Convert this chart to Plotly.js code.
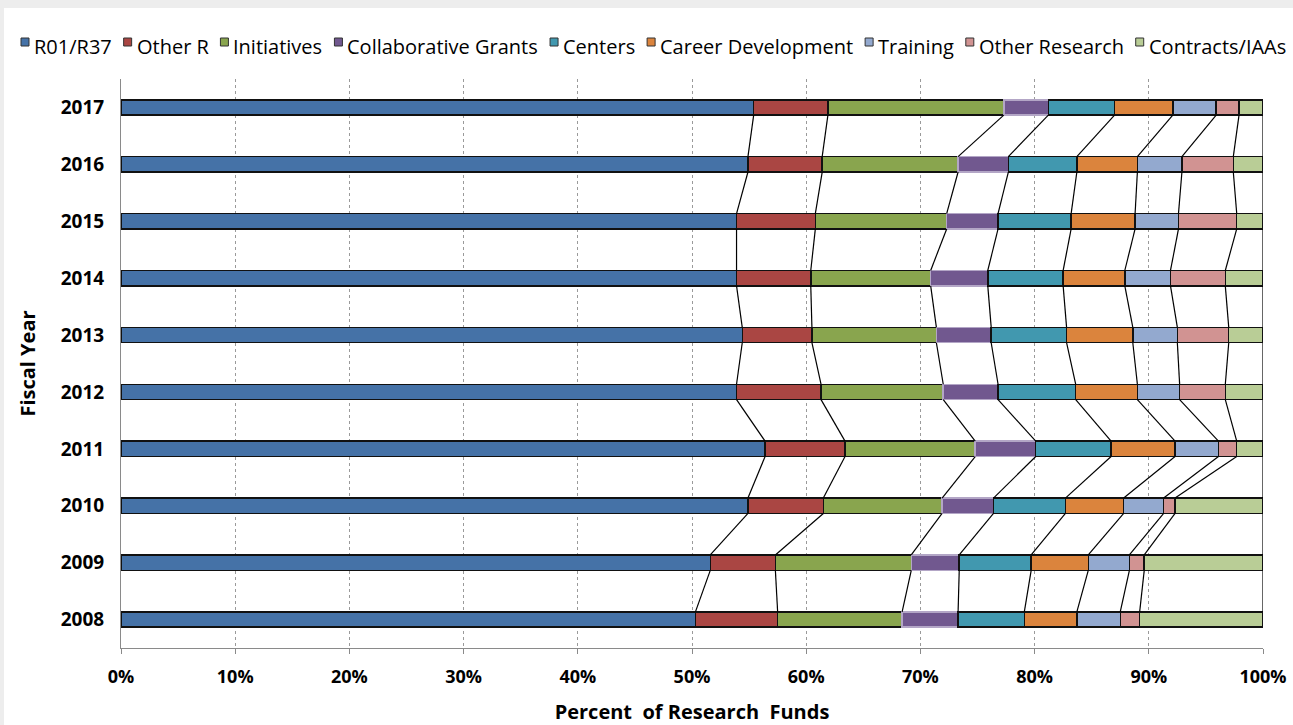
<!DOCTYPE html>
<html>
<head>
<meta charset="utf-8">
<script src="https://cdn.plot.ly/plotly-3.0.1.min.js"></script>
<style>
  html, body { margin: 0; padding: 0; background: #ededed; }
  #chart { position: absolute; left: 4px; top: 8px; width: 1289px; height: 717px; background: #fff; }
</style>
</head>
<body>
<div id="chart"></div>
<script>
// ---- data (percent of research funds) ----
const years = ["2008","2009","2010","2011","2012","2013","2014","2015","2016","2017"];
const seriesNames = ["R01/R37","Other R","Initiatives","Collaborative Grants","Centers",
                     "Career Development","Training","Other Research","Contracts/IAAs"];
const r01          = [50.3, 51.6, 54.9, 56.4, 53.9, 54.4, 53.9, 53.9, 54.9, 55.4];
const otherR       = [ 7.2,  5.7,  6.6,  7.0,  7.4,  6.1,  6.5,  6.9,  6.5,  6.5];
const initiatives  = [10.9, 11.9, 10.4, 11.4, 10.7, 10.9, 10.5, 11.5, 11.9, 15.4];
const collab       = [ 4.9,  4.2,  4.5,  5.3,  4.8,  4.8,  5.0,  4.5,  4.4,  3.9];
const centers      = [ 5.8,  6.3,  6.3,  6.6,  6.8,  6.6,  6.6,  6.4,  6.0,  5.8];
const career       = [ 4.6,  5.0,  5.1,  5.6,  5.4,  5.8,  5.4,  5.6,  5.3,  5.1];
const training     = [ 3.8,  3.6,  3.5,  3.8,  3.7,  3.9,  4.0,  3.8,  3.9,  3.8];
const otherRes     = [ 1.7,  1.3,  1.0,  1.6,  4.0,  4.5,  4.8,  5.1,  4.5,  2.0];
const contracts    = [10.8, 10.4,  7.7,  2.3,  3.3,  3.0,  3.3,  2.3,  2.6,  2.1];
const xTickVals    = [0,10,20,30,40,50,60,70,80,90,100];
const xTickLabels  = ["0%","10%","20%","30%","40%","50%","60%","70%","80%","90%","100%"];

// ---- styles ----
const seriesValues = [r01, otherR, initiatives, collab, centers, career, training, otherRes, contracts];
const colors = ["#4572A7","#AA4643","#89A54E","#71588F","#4198AF","#DB843D","#93A9CF","#D19392","#B9CD96"];
const outline = ["#111","#111","#111","#b3a6c6","#111","#111","#111","#111","#111"];
const FONT = '"Open Sans", sans-serif';
const BAR_W = 0.27;

const yIdx = years.map((_, i) => i);
const traces = seriesValues.map((vals, s) => ({
  type: 'bar', orientation: 'h', name: seriesNames[s],
  x: vals, y: yIdx, width: BAR_W,
  marker: { color: colors[s], line: { color: outline[s], width: 1.5 } },
  hoverinfo: 'skip', showlegend: false
}));

// series lines connecting cumulative boundaries of adjacent bars
const cum = years.map((_, i) => {
  let acc = 0; return seriesValues.map(v => (acc += v[i]));
});
const lx = [], ly = [];
for (let i = 0; i < years.length - 1; i++) {
  for (let s = 0; s < seriesValues.length; s++) {
    lx.push(cum[i + 1][s], cum[i][s], null);
    ly.push(i + 1 - BAR_W / 2, i + BAR_W / 2, null);
  }
}
traces.push({ type: 'scatter', mode: 'lines', x: lx, y: ly,
  line: { color: '#000', width: 1.2 }, hoverinfo: 'skip', showlegend: false, cliponaxis: false });

// ---- custom legend laid out across the top ----
const W = 1289, H = 717, ML = 117, MR = 30, MT = 71, MB = 77;
const PW = W - ML - MR, PH = H - MT - MB;
const legFontSize = 20;
const ctx = document.createElement('canvas').getContext('2d');
ctx.font = legFontSize + 'px "Open Sans"';
const widths = seriesNames.map(n => ctx.measureText(n).width);
const legLeft = 21 - 4, legRight = 1285 - 4, legY = 46 - 8;
const box = 8, boxGap = 4;
const used = widths.reduce((a, w) => a + w + box + boxGap, 0);
const gap = (legRight - legLeft - used) / (seriesNames.length - 1);
const shapes = [], annotations = [];
const px2x = p => (p - ML) / PW;
const py2y = p => (H - MB - p) / PH;
let cx = legLeft;
seriesNames.forEach((n, s) => {
  shapes.push({ type: 'rect', xref: 'paper', yref: 'paper',
    x0: px2x(cx), x1: px2x(cx + box), y0: py2y(legY - 4 + box / 2), y1: py2y(legY - 4 - box / 2),
    fillcolor: colors[s], line: { color: '#333', width: 1 } });
  annotations.push({ xref: 'paper', yref: 'paper', x: px2x(cx + box + boxGap - 1), y: py2y(legY),
    xanchor: 'left', yanchor: 'middle', showarrow: false, text: n,
    font: { family: FONT, size: legFontSize, color: '#000' } });
  cx += box + boxGap + widths[s] + gap;
});

const layout = {
  width: W, height: H,
  margin: { l: ML, r: MR, t: MT, b: MB, pad: 0 },
  paper_bgcolor: '#fff', plot_bgcolor: '#fff',
  barmode: 'stack', bargap: 0,
  showlegend: false,
  font: { family: FONT, color: '#000' },
  xaxis: {
    range: [0, 100], tickmode: 'array', tickvals: xTickVals, ticktext: xTickLabels,
    showgrid: true, gridcolor: '#9a9a9a', griddash: 'dot', gridwidth: 1,
    zeroline: false, showline: true, linecolor: '#8a8a8a', linewidth: 1,
    ticks: 'outside', ticklen: 5, tickcolor: '#8a8a8a',
    ticklabelstandoff: 7,
    tickfont: { family: FONT, size: 18, color: '#000', weight: 'bold' },
    title: { text: 'Percent\u00a0 of Research\u00a0 Funds', standoff: 22,
             font: { family: FONT, size: 20, color: '#000', weight: 'bold' } },
    automargin: false, fixedrange: true
  },
  yaxis: {
    range: [-0.5, years.length - 0.5], tickmode: 'array', tickvals: yIdx, ticktext: years,
    showgrid: false, zeroline: false, showline: true, linecolor: '#8a8a8a', linewidth: 1,
    ticks: '', ticklabelstandoff: 12,
    tickfont: { family: FONT, size: 19, color: '#000', weight: 'bold' },
    title: { text: 'Fiscal Year', standoff: 19,
             font: { family: FONT, size: 20, color: '#000', weight: 'bold' } },
    automargin: false, fixedrange: true
  },
  shapes: shapes, annotations: annotations
};

Plotly.newPlot('chart', traces, layout, { displayModeBar: false, staticPlot: true });
</script>
</body>
</html>
